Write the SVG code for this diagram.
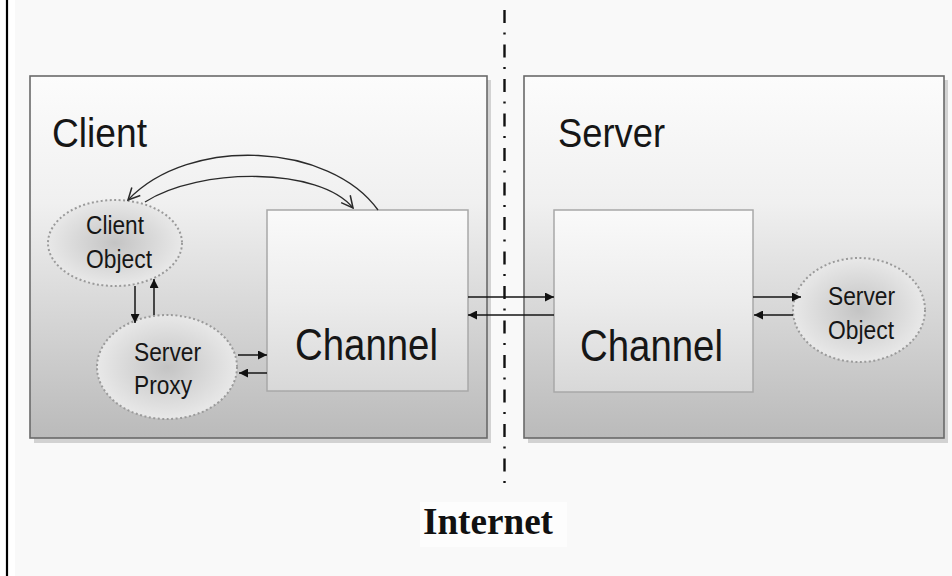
<svg xmlns="http://www.w3.org/2000/svg" width="952" height="576" viewBox="0 0 952 576">
  <style>
    .t { font-family: "Liberation Sans", Arial, sans-serif; fill: #161616; }
    .box { stroke: #6a6a6a; stroke-width: 1.6; fill: url(#boxGrad); }
    .shadow { fill: #b8b8b8; opacity: 0.6; }
    .chan { stroke: #a8a8a8; stroke-width: 1.5; fill: url(#chanGrad); }
    .obj { stroke: #9a9a9a; stroke-width: 2; stroke-dasharray: 2 2.5; fill: url(#objGrad); }
    .ln { stroke: #151515; stroke-width: 1.5; fill: none; }
    .arc { stroke: #2a2a2a; stroke-width: 1.3; fill: none; }
  </style>
  <defs>
    <linearGradient id="boxGrad" x1="0" y1="0" x2="0" y2="1">
      <stop offset="0" stop-color="#fcfcfc"/>
      <stop offset="0.35" stop-color="#f0f0f0"/>
      <stop offset="1" stop-color="#bababa"/>
    </linearGradient>
    <linearGradient id="chanGrad" x1="0" y1="0" x2="0" y2="1">
      <stop offset="0" stop-color="#fafafa"/>
      <stop offset="0.5" stop-color="#ececec"/>
      <stop offset="1" stop-color="#d8d8d8"/>
    </linearGradient>
    <radialGradient id="objGrad" cx="0.5" cy="0.5" r="0.5">
      <stop offset="0" stop-color="#c4c4c4"/>
      <stop offset="1" stop-color="#e8e8e8"/>
    </radialGradient>
    <marker id="arr" viewBox="0 0 10 10" refX="10" refY="5" markerWidth="11" markerHeight="9" orient="auto" markerUnits="userSpaceOnUse">
      <path d="M0,0 L10,5 L0,10 Z" fill="#111"/>
    </marker>
    <marker id="open" viewBox="0 0 12 12" refX="11" refY="6" markerWidth="14" markerHeight="14" orient="auto" markerUnits="userSpaceOnUse">
      <path d="M1,1 L11,6 L1,11" fill="none" stroke="#2a2a2a" stroke-width="1.3"/>
    </marker>
  </defs>

  <rect x="0" y="0" width="952" height="576" fill="#ffffff"/>
  <rect x="15" y="0" width="937" height="576" fill="#f9f9f9"/>
  <line x1="7" y1="0" x2="7" y2="576" stroke="#000" stroke-width="2.2"/>

  <g id="client">
    <rect class="shadow" x="34" y="80" width="457" height="363"/>
    <rect class="box" x="30" y="76" width="457" height="362"/>
    <text class="t" x="52" y="147" font-size="41" textLength="95" lengthAdjust="spacingAndGlyphs">Client</text>
  </g>

  <g id="server">
    <rect class="shadow" x="528" y="80" width="420" height="363"/>
    <rect class="box" x="524" y="76" width="420" height="362"/>
    <text class="t" x="558" y="147" font-size="41" textLength="107" lengthAdjust="spacingAndGlyphs">Server</text>
  </g>

  <g id="client-channel">
    <rect class="chan" x="267" y="210" width="201" height="181"/>
    <text class="t" x="295" y="360" font-size="45" textLength="143" lengthAdjust="spacingAndGlyphs">Channel</text>
  </g>

  <g id="server-channel">
    <rect class="chan" x="554" y="210" width="199" height="182"/>
    <text class="t" x="580" y="361" font-size="45" textLength="143" lengthAdjust="spacingAndGlyphs">Channel</text>
  </g>

  <g id="client-object">
    <ellipse class="obj" cx="115" cy="243" rx="67" ry="43"/>
    <text class="t" x="86" y="234" font-size="26" textLength="58" lengthAdjust="spacingAndGlyphs">Client</text>
    <text class="t" x="86" y="268" font-size="26" textLength="66" lengthAdjust="spacingAndGlyphs">Object</text>
  </g>

  <g id="server-proxy">
    <ellipse class="obj" cx="167" cy="367" rx="70" ry="52"/>
    <text class="t" x="134" y="361" font-size="26" textLength="67" lengthAdjust="spacingAndGlyphs">Server</text>
    <text class="t" x="134" y="394" font-size="26" textLength="58" lengthAdjust="spacingAndGlyphs">Proxy</text>
  </g>

  <g id="server-object">
    <ellipse class="obj" cx="859" cy="310" rx="66" ry="52"/>
    <text class="t" x="828" y="305" font-size="26" textLength="67" lengthAdjust="spacingAndGlyphs">Server</text>
    <text class="t" x="828" y="339" font-size="26" textLength="66" lengthAdjust="spacingAndGlyphs">Object</text>
  </g>

  <g id="internet">
    <line x1="504.5" y1="10" x2="504.5" y2="485" stroke="#111" stroke-width="2.4" stroke-dasharray="13 9.5 2 10"/>
    <rect x="420" y="502" width="147" height="45" fill="#fdfdfd"/>
    <text x="423" y="534" font-family="'Liberation Serif', 'Times New Roman', serif" font-weight="bold" font-size="37" fill="#111" textLength="130" lengthAdjust="spacingAndGlyphs">Internet</text>
  </g>

  <g id="connectors">
    <path class="arc" d="M378,210 C330,143 190,135 128,200" marker-end="url(#open)"/>
    <path class="arc" d="M145,202 C200,167 320,167 353,208" marker-end="url(#open)"/>
    <line class="ln" x1="135" y1="286" x2="135" y2="323" marker-end="url(#arr)"/>
    <line class="ln" x1="154" y1="315" x2="154" y2="279" marker-end="url(#arr)"/>
    <line class="ln" x1="238" y1="355" x2="267" y2="355" marker-end="url(#arr)"/>
    <line class="ln" x1="267" y1="373" x2="239" y2="373" marker-end="url(#arr)"/>
    <line class="ln" x1="468" y1="297" x2="554" y2="297" marker-end="url(#arr)"/>
    <line class="ln" x1="554" y1="315" x2="468" y2="315" marker-end="url(#arr)"/>
    <line class="ln" x1="753" y1="297" x2="801" y2="297" marker-end="url(#arr)"/>
    <line class="ln" x1="793" y1="315" x2="754" y2="315" marker-end="url(#arr)"/>
  </g>
</svg>
